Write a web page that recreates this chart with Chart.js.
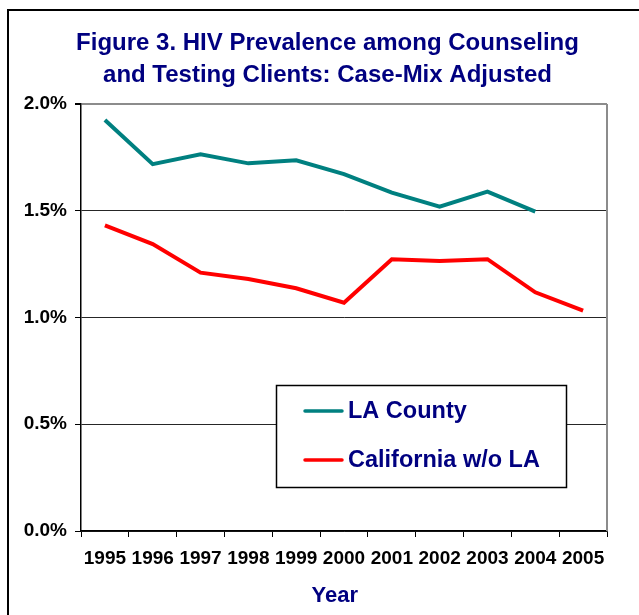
<!DOCTYPE html>
<html>
<head>
<meta charset="utf-8">
<script src="https://cdn.jsdelivr.net/npm/chart.js@4/dist/chart.umd.min.js"></script>
<style>
  html, body { margin: 0; padding: 0; background: #ffffff; }
  #wrap { position: relative; width: 639px; height: 615px; }
</style>
</head>
<body>
<div id="wrap"><canvas id="c" width="639" height="615"></canvas></div>
<script>
const years = ['1995','1996','1997','1998','1999','2000','2001','2002','2003','2004','2005'];
const laCounty = [1.925, 1.718, 1.764, 1.722, 1.736, 1.672, 1.585, 1.519, 1.590, 1.496, null];
const californiaWoLA = [1.432, 1.344, 1.210, 1.180, 1.137, 1.069, 1.273, 1.265, 1.273, 1.118, 1.032];
const yTicks = [0, 0.5, 1.0, 1.5, 2.0];
const titleLines = ['Figure 3. HIV Prevalence among Counseling', 'and Testing Clients: Case-Mix Adjusted'];
const seriesNames = ['LA County', 'California w/o LA'];

const NAVY = '#000080';
const FONT = "'Liberation Sans', Arial, Helvetica, sans-serif";

const framePlugin = {
  id: 'frame',
  beforeDraw(chart) {
    // centre the title over the whole figure as in the original
    if (chart.titleBlock && !chart.titleBlock._shifted) {
      chart.titleBlock.left += 24;
      chart.titleBlock.right += 24;
      chart.titleBlock._shifted = true;
    }
    const ctx = chart.ctx;
    ctx.save();
    ctx.fillStyle = '#ffffff';
    ctx.fillRect(0, 0, chart.width, chart.height);
    ctx.strokeStyle = '#000000';
    ctx.lineWidth = 2;
    ctx.strokeRect(8, 10, chart.width + 20, chart.height + 20);
    ctx.restore();
  },
  afterDatasetsDraw(chart) {
    const ctx = chart.ctx;
    const a = chart.chartArea;
    ctx.save();
    // right border of plot area
    ctx.strokeStyle = '#8c8c8c';
    ctx.lineWidth = 2;
    ctx.beginPath();
    ctx.moveTo(a.right, a.top);
    ctx.lineTo(a.right, a.bottom);
    ctx.stroke();
    // legend box
    const bx = 276, by = 385, bw = 290, bh = 102;
    ctx.fillStyle = '#ffffff';
    ctx.fillRect(bx, by, bw, bh);
    ctx.strokeStyle = '#000000';
    ctx.lineWidth = 1.5;
    ctx.strokeRect(bx + 0.5, by + 0.5, bw, bh);
    const rows = [411, 460];
    chart.data.datasets.forEach((ds, i) => {
      const ry = rows[i];
      ctx.strokeStyle = ds.borderColor;
      ctx.lineWidth = 3.5;
      ctx.lineCap = 'round';
      ctx.beginPath();
      ctx.moveTo(305, ry);
      ctx.lineTo(342, ry);
      ctx.stroke();
      ctx.fillStyle = NAVY;
      ctx.font = "bold 23.5px " + FONT;
      ctx.textBaseline = 'middle';
      ctx.textAlign = 'left';
      ctx.fillText(ds.label, 348, ry + 1);
    });
    ctx.restore();
  }
};

new Chart(document.getElementById('c'), {
  type: 'line',
  data: {
    labels: years,
    datasets: [
      { label: seriesNames[0], data: laCounty, borderColor: '#008080', backgroundColor: '#008080',
        borderWidth: 4, pointRadius: 0, tension: 0, spanGaps: false },
      { label: seriesNames[1], data: californiaWoLA, borderColor: '#ff0000', backgroundColor: '#ff0000',
        borderWidth: 4, pointRadius: 0, tension: 0 }
    ]
  },
  options: {
    responsive: false,
    animation: false,
    devicePixelRatio: 1,
    layout: { padding: { left: 0, right: 32, top: 0, bottom: 0 } },
    plugins: {
      legend: { display: false },
      tooltip: { enabled: false },
      title: {
        display: true,
        text: titleLines,
        color: NAVY,
        font: { family: FONT, size: 24, weight: 'bold', lineHeight: 32 / 24 },
        padding: { top: 27, bottom: 13 }
      }
    },
    scales: {
      x: {
        offset: true,
        grid: { offset: true, drawOnChartArea: false, tickLength: 6, color: '#000000', lineWidth: 1 },
        border: { color: '#000000', width: 1.5 },
        ticks: { color: '#000000', padding: 10, maxRotation: 0, autoSkip: false,
                 font: { family: FONT, size: 19, weight: 'bold' } },
        title: { display: true, text: 'Year   ', color: NAVY,
                 font: { family: FONT, size: 22, weight: 'bold' }, padding: { top: 0, bottom: 6 } },
        afterFit(scale) { scale.height = 84; }
      },
      y: {
        min: 0, max: 2.0,
        afterBuildTicks(scale) { scale.ticks = yTicks.map(v => ({ value: v })); },
        grid: {
          tickLength: 6, lineWidth: ctx => (ctx.tick && ctx.tick.value === 2 ? 2 : 1),
          color: ctx => (ctx.tick && ctx.tick.value === 2 ? '#8c8c8c' : '#262626'),
          tickColor: '#000000'
        },
        border: { color: '#000000', width: 1.5 },
        ticks: { color: '#000000', padding: 8,
                 font: { family: FONT, size: 19, weight: 'bold' },
                 callback: v => Number(v).toFixed(1) + '%' },
        afterFit(scale) { scale.width = 81; }
      }
    }
  },
  plugins: [framePlugin]
});
</script>
</body>
</html>
